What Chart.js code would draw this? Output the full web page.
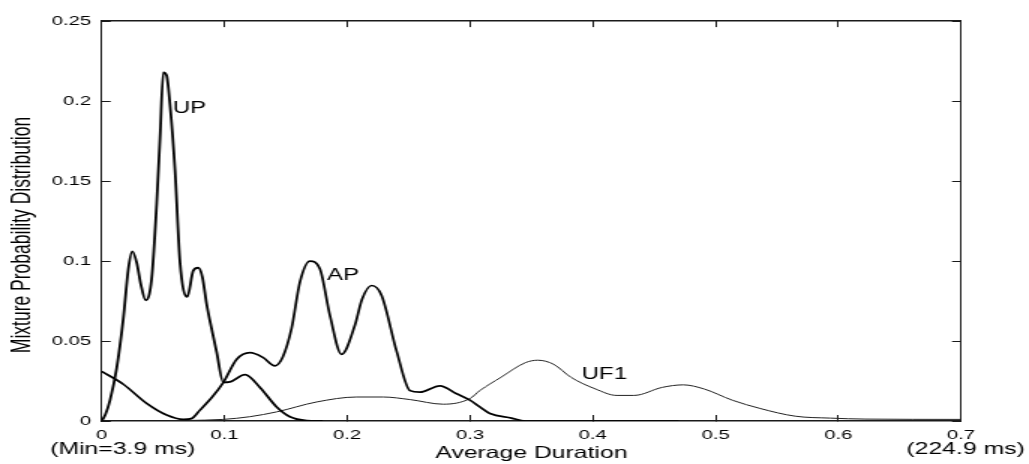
<!DOCTYPE html>
<html>
<head>
<meta charset="utf-8">
<title>Mixture Probability Distribution</title>
<script src="https://cdn.jsdelivr.net/npm/chart.js@4"></script>
<style>
    html, body { margin: 0; padding: 0; background: #fff; overflow: hidden; }
    /* the original figure is stretched sideways, so draw narrow and scale x */
    .chart-box { width: 686px; height: 464px; transform: scaleX(1.5); transform-origin: 0 0; }
</style>
</head>
<body>
<div class="chart-box"><canvas id="mixChart"></canvas></div>
<script>
// Data (x = normalised average duration)
const upX = [0, 0.003, 0.0068, 0.0122, 0.0176, 0.0217, 0.0249, 0.0285, 0.032, 0.0358, 0.0407, 0.0448, 0.0475, 0.0502, 0.0529, 0.0556, 0.0597, 0.0638, 0.0697, 0.0746, 0.0787, 0.082, 0.0855, 0.0882, 0.0936, 0.099, 0.1045, 0.1167, 0.1289, 0.1425, 0.1533, 0.167, 0.18];
const upY = [0, 0.004, 0.013, 0.033, 0.064, 0.095, 0.106, 0.099, 0.085, 0.0755, 0.089, 0.136, 0.177, 0.218, 0.216, 0.198, 0.157, 0.099, 0.0776, 0.094, 0.0958, 0.09, 0.073, 0.0624, 0.0432, 0.0242, 0.0245, 0.029, 0.021, 0.0088, 0.0027, 0.0003, 0];

const apX = [0, 0.0176, 0.0366, 0.0529, 0.0664, 0.073, 0.08, 0.09, 0.099, 0.11, 0.1208, 0.1316, 0.1411, 0.1475, 0.1547, 0.1615, 0.1696, 0.1778, 0.1859, 0.1954, 0.2063, 0.212, 0.2199, 0.228, 0.2402, 0.2511, 0.2592, 0.2755, 0.2891, 0.2999, 0.308, 0.3162, 0.3338, 0.345, 0.47];
const apY = [0.031, 0.023, 0.011, 0.0037, 0.001, 0.0015, 0.0068, 0.015, 0.024, 0.0386, 0.0427, 0.0396, 0.0345, 0.04, 0.058, 0.087, 0.1, 0.095, 0.066, 0.0417, 0.06, 0.076, 0.0847, 0.0785, 0.0437, 0.019, 0.018, 0.022, 0.017, 0.013, 0.0088, 0.0047, 0.0018, 0, 0];

const uf1X = [0.055, 0.069, 0.099, 0.1208, 0.1425, 0.1751, 0.2077, 0.2293, 0.2511, 0.2782, 0.2999, 0.308, 0.3252, 0.3452, 0.3552, 0.368, 0.3823, 0.4023, 0.4194, 0.4337, 0.4565, 0.4737, 0.4908, 0.5137, 0.5365, 0.565, 0.5936, 0.6221, 0.7];
const uf1Y = [0, 0.0003, 0.001, 0.0027, 0.0057, 0.0119, 0.015, 0.015, 0.0134, 0.0105, 0.014, 0.019, 0.0273, 0.0365, 0.038, 0.0355, 0.0273, 0.020, 0.016, 0.016, 0.021, 0.0226, 0.020, 0.013, 0.0078, 0.003, 0.0018, 0.0012, 0.001];

// Curve names and where they are written (data units, text baseline)
const curveNames = ['UP', 'AP', 'UF1'];
const nameX = [0.058, 0.1835, 0.391];
const nameY = [0.1927, 0.088, 0.0265];

const xTitle = 'Average Duration';
const yTitle = 'Mixture Probability Distribution';
const xMinNote = '(Min=3.9 ms)';
const xMaxNote = '(224.9 ms)';

const font = '"Liberation Sans", Arial, Helvetica, sans-serif';
const frameColor = '#1a1a1a';

function toPoints(xs, ys) {
    return xs.map((x, i) => ({ x: x, y: ys[i] }));
}

function fmt(v) {
    return String(Number(v.toFixed(2)));
}

// grid used only for short inward tick marks (negative length)
function tickGrid() {
    return { display: true, drawOnChartArea: false, drawTicks: true, tickLength: -6, color: frameColor, lineWidth: 1 };
}

// Extra texts: curve names, axis titles, end notes
const textPlugin = {
    id: 'texts',
    afterDraw(chart) {
        const ctx = chart.ctx;
        const a = chart.chartArea;
        const xs = chart.scales.x;
        const ys = chart.scales.y;
        ctx.save();
        ctx.fillStyle = '#000';
        ctx.textBaseline = 'alphabetic';

        ctx.font = '16px ' + font;
        ctx.textAlign = 'left';
        curveNames.forEach((name, i) => {
            ctx.fillText(name, xs.getPixelForValue(nameX[i]), ys.getPixelForValue(nameY[i]));
        });

        ctx.font = '16.5px ' + font;
        ctx.textAlign = 'center';
        ctx.fillText(xTitle, (a.left + a.right) / 2, 458);
        ctx.fillText(xMinNote, xs.getPixelForValue(0) + 14, 454);
        ctx.fillText(xMaxNote, xs.getPixelForValue(0.7) + 3, 454);

        ctx.font = '17.5px ' + font;
        ctx.translate(14.7, 235);
        ctx.rotate(-Math.PI / 2);
        ctx.textBaseline = 'middle';
        ctx.fillText(yTitle, 0, 0);
        ctx.restore();
    }
};

const ctxMix = document.getElementById('mixChart').getContext('2d');
const mixChart = new Chart(ctxMix, {
    type: 'line',
    data: {
        datasets: [
            {
                label: 'UP',
                data: toPoints(upX, upY),
                borderColor: '#000',
                borderWidth: 1.8,
                pointRadius: 0,
                cubicInterpolationMode: 'monotone'
            },
            {
                label: 'AP',
                data: toPoints(apX, apY),
                borderColor: '#000',
                borderWidth: 1.7,
                pointRadius: 0,
                cubicInterpolationMode: 'monotone'
            },
            {
                label: 'UF1',
                data: toPoints(uf1X, uf1Y),
                borderColor: '#222',
                borderWidth: 1,
                pointRadius: 0,
                cubicInterpolationMode: 'monotone'
            }
        ]
    },
    options: {
        responsive: true,
        maintainAspectRatio: false,
        animation: false,
        layout: {
            padding: 0
        },
        plugins: {
            legend: { display: false },
            tooltip: { enabled: false }
        },
        scales: {
            x: {
                type: 'linear',
                position: 'bottom',
                min: 0,
                max: 0.7,
                grid: tickGrid(),
                border: { display: true, color: frameColor, width: 1.5 },
                ticks: {
                    stepSize: 0.1,
                    padding: 12,
                    color: '#000',
                    font: { family: font, size: 13.5 },
                    maxRotation: 0,
                    callback: v => fmt(v)
                },
                afterFit: scale => { scale.height = 43; }
            },
            xTop: {
                type: 'linear',
                position: 'top',
                min: 0,
                max: 0.7,
                grid: tickGrid(),
                border: { display: true, color: frameColor, width: 1.5 },
                ticks: { stepSize: 0.1, display: false },
                afterFit: scale => { scale.height = 15; }
            },
            y: {
                position: 'left',
                min: 0,
                max: 0.25,
                grid: tickGrid(),
                border: { display: true, color: frameColor, width: 1 },
                ticks: {
                    stepSize: 0.05,
                    padding: 13,
                    color: '#000',
                    font: { family: font, size: 13.5 },
                    callback: v => fmt(v)
                },
                afterFit: scale => { scale.width = 67.8; }
            },
            yRight: {
                position: 'right',
                min: 0,
                max: 0.25,
                grid: tickGrid(),
                border: { display: true, color: frameColor, width: 1 },
                ticks: { stepSize: 0.05, display: false },
                afterFit: scale => { scale.width = 45.3; }
            }
        }
    },
    plugins: [textPlugin]
});
</script>
</body>
</html>
